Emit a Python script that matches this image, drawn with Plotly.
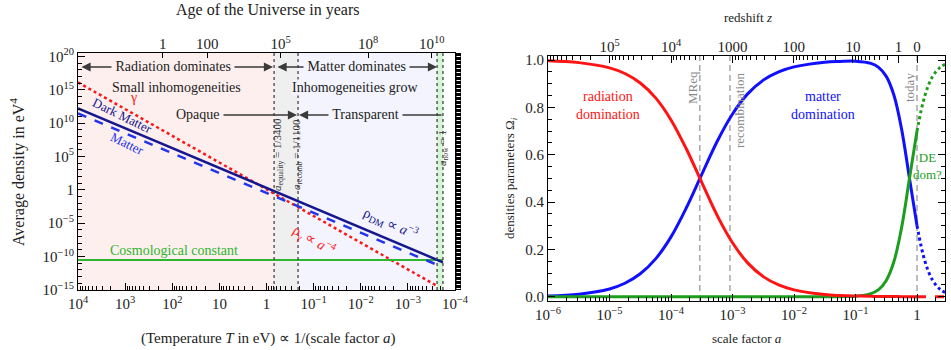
import numpy as np
import plotly.graph_objects as go

# ---------------- Left panel data ----------------
T_line = [1e4, 1.8e-4]                      # temperature in eV (end points)
rho_dm = [10**12.2, 10**-10.85]             # dark matter density, eV^4
rho_matter = [10**11.45, 10**-11.6]         # (baryonic) matter density
T_gamma = [1e4, 2.4e-4]
rho_gamma = [10**16.1, 10**-14.4]           # photons
rho_lambda = [10**-10.5, 10**-10.5]         # cosmological constant

T_ticks = [1e4, 1e3, 1e2, 10, 1, 0.1, 0.01, 1e-3, 1e-4]
T_ticktext = ["10<sup>4</sup>", "10<sup>3</sup>", "10<sup>2</sup>", "10", "1",
              "10<sup>−1</sup>", "10<sup>−2</sup>", "10<sup>−3</sup>", "10<sup>−4</sup>"]
age_T = [160, 18, 0.5, 7e-3, 3.1e-4]
age_labels = ["1", "100", "10<sup>5</sup>", "10<sup>8</sup>", "10<sup>10</sup>"]
rho_ticks = [1e20, 1e15, 1e10, 1e5, 1, 1e-5, 1e-10, 1e-15]
rho_ticktext = ["10<sup>20</sup>", "10<sup>15</sup>", "10<sup>10</sup>", "10<sup>5</sup>", "1",
                "10<sup>−5</sup>", "10<sup>−10</sup>", "10<sup>−15</sup>"]
T_eq, T_rec, T_now_a, T_now_b = 0.69, 0.214, 2.4e-4, 1.8e-4

# ---------------- Right panel data ----------------
log_a = [-6, -5.5, -5, -4.75, -4.5, -4.25, -4, -3.75, -3.5, -3.25, -3, -2.75, -2.5,
         -2.25, -2, -1.5, -1.25, -1, -0.75, -0.625, -0.5, -0.375, -0.25, -0.125, 0]
omega_r = [0.997, 0.989, 0.967, 0.943, 0.903, 0.840, 0.747, 0.624, 0.483, 0.344, 0.228,
           0.142, 0.085, 0.050, 0.029, 0.009, 0.005, 0.003, 0.002, 0.001, 0.001, 0.001,
           0.0, 0.0, 0.0]
omega_m = [0.003, 0.011, 0.033, 0.057, 0.097, 0.160, 0.253, 0.376, 0.517, 0.656, 0.772,
           0.858, 0.915, 0.950, 0.971, 0.991, 0.994, 0.995, 0.986, 0.969, 0.931, 0.851,
           0.707, 0.504, 0.300]
omega_de = [0, 0, 0, 0, 0, 0, 0, 0, 0, 0, 0, 0, 0, 0, 0,
            0.0001, 0.0004, 0.002, 0.013, 0.030, 0.069, 0.149, 0.293, 0.496, 0.700]
log_a_future = [0, 0.125, 0.25, 0.375, 0.455]
omega_r_future = [0, 0, 0, 0, 0]
omega_m_future = [0.300, 0.153, 0.071, 0.031, 0.018]
omega_de_future = [0.700, 0.847, 0.929, 0.969, 0.982]

a_ticks = [1e-6, 1e-5, 1e-4, 1e-3, 1e-2, 1e-1, 1]
a_ticktext = ["10<sup>−6</sup>", "10<sup>−5</sup>", "10<sup>−4</sup>", "10<sup>−3</sup>",
              "10<sup>−2</sup>", "10<sup>−1</sup>", "1"]
z_ticks = [1e5, 1e4, 1000, 100, 10, 1, 0]
z_ticktext = ["10<sup>5</sup>", "10<sup>4</sup>", "1000", "100", "10", "1", "0"]
omega_ticks = [0, 0.2, 0.4, 0.6, 0.8, 1.0]
a_eq, a_rec, a_today = 1 / 3400, 1 / 1100, 1.0

a_vals = 10 ** np.array(log_a)
a_future = 10 ** np.array(log_a_future)

# ---------------- colours ----------------
RED = "#ff1414"
NAVY = "#16168f"
BLUE = "#2233ee"
GREEN_L = "#2fb52f"
BLUE_R = "#1010ff"
GREEN_R = "#1c9e1c"
FONT = "Liberation Serif"

W, H = 951, 350
def px(X): return X / W
def py(Y): return 1 - Y / H

fig = go.Figure()

# Left panel traces
fig.add_trace(go.Scatter(x=T_gamma, y=rho_gamma, mode="lines",
                         line=dict(color=RED, width=2.5, dash="dot"), xaxis="x", yaxis="y"))
fig.add_trace(go.Scatter(x=T_line, y=rho_lambda, mode="lines",
                         line=dict(color=GREEN_L, width=2), xaxis="x", yaxis="y"))
fig.add_trace(go.Scatter(x=T_line, y=rho_matter, mode="lines",
                         line=dict(color=BLUE, width=2.5, dash="dash"), xaxis="x", yaxis="y"))
fig.add_trace(go.Scatter(x=T_line, y=rho_dm, mode="lines",
                         line=dict(color=NAVY, width=2.5), xaxis="x", yaxis="y"))
fig.add_trace(go.Scatter(x=[1], y=[1], mode="markers", marker=dict(opacity=0),
                         xaxis="x3", yaxis="y", hoverinfo="skip"))

# Right panel traces
fig.add_trace(go.Scatter(x=a_vals, y=omega_m, mode="lines", line_shape="spline",
                         line=dict(color=BLUE_R, width=3), xaxis="x2", yaxis="y2"))
fig.add_trace(go.Scatter(x=a_vals, y=omega_de, mode="lines", line_shape="spline",
                         line=dict(color=GREEN_R, width=3), xaxis="x2", yaxis="y2"))
fig.add_trace(go.Scatter(x=a_vals, y=omega_r, mode="lines", line_shape="spline",
                         line=dict(color=RED, width=3), xaxis="x2", yaxis="y2"))
fig.add_trace(go.Scatter(x=a_future, y=omega_m_future, mode="lines", line_shape="spline",
                         line=dict(color=BLUE_R, width=3, dash="dot"), xaxis="x2", yaxis="y2"))
fig.add_trace(go.Scatter(x=a_future, y=omega_de_future, mode="lines", line_shape="spline",
                         line=dict(color=GREEN_R, width=3, dash="dot"), xaxis="x2", yaxis="y2"))
fig.add_trace(go.Scatter(x=a_future, y=omega_r_future, mode="lines",
                         line=dict(color=RED, width=3, dash="dash"), xaxis="x2", yaxis="y2"))
fig.add_trace(go.Scatter(x=[0.01], y=[0.5], mode="markers", marker=dict(opacity=0),
                         xaxis="x4", yaxis="y2", hoverinfo="skip"))

# ---------------- shapes ----------------
shapes = []
bands = [(1e4, T_eq, "#fcefee"), (T_eq, T_rec, "#efefef"), (T_rec, T_now_a, "#f3f4fd"),
         (T_now_a, T_now_b, "#d4f6d4")]
for x0, x1, c in bands:
    shapes.append(dict(type="rect", xref="x", yref="y domain", x0=x0, x1=x1, y0=0, y1=1,
                       fillcolor=c, line=dict(width=0), layer="below"))
for xv in [T_eq, T_rec, T_now_a, T_now_b]:
    shapes.append(dict(type="line", xref="x", yref="y domain", x0=xv, x1=xv, y0=0, y1=1,
                       line=dict(color="#444", width=1.3, dash="dot")))
# striped bar on the right edge of the left frame
shapes.append(dict(type="rect", xref="paper", yref="paper", x0=px(455), x1=px(461),
                   y0=py(290), y1=py(53), fillcolor="black", line=dict(width=0)))
shapes.append(dict(type="line", xref="paper", yref="paper", x0=px(458.5), x1=px(458.5),
                   y0=py(289), y1=py(54), line=dict(color="white", width=4, dash="1px,3px")))
for xv in [a_eq, a_rec, a_today]:
    shapes.append(dict(type="line", xref="x2", yref="y2 domain", x0=xv, x1=xv, y0=0, y1=1,
                       line=dict(color="#9a9a9a", width=1.3, dash="6px,4px"), layer="below"))

# ---------------- annotations ----------------
ann = []
def text(X, Y, s, size=14, color="#222", angle=0, bg=None):
    d = dict(x=px(X), y=py(Y), xref="paper", yref="paper", text=s, showarrow=False,
             font=dict(family=FONT, size=size, color=color), textangle=angle,
             xanchor="center", yanchor="middle")
    if bg:
        d["bgcolor"] = bg
        d["borderpad"] = 0
    ann.append(d)

def arrow(Xh, Xt, Y, both=False):
    ann.append(dict(x=px(Xh), y=py(Y), xref="paper", yref="paper", ax=Xt - Xh, ay=0,
                    axref="pixel", ayref="pixel", text="", showarrow=True,
                    arrowhead=2, arrowsize=1.3, arrowwidth=1.4, arrowcolor="#3a3a3a",
                    arrowside="end+start" if both else "end"))

arrow(273, 80, 67, both=True)
arrow(437, 276, 67, both=True)
arrow(297, 222, 115)
arrow(299, 443, 115)
text(173, 67, " Radiation dominates ", bg="#fcefee")
text(356, 67, " Matter dominates ", bg="#f3f4fd")
text(176, 87, "Small inhomogeneities")
text(355, 87, "Inhomogeneities grow", bg="#f3f4fd")
text(198, 115, "Opaque", bg="#fcefee")
text(365, 115, " Transparent ", bg="#f3f4fd")
text(133, 97, "γ", color=RED)
text(122, 116, "Dark Matter", size=13, color=NAVY, angle=26)
text(127, 143, "Matter", size=13, color=BLUE, angle=26)
text(390, 223, "ρ<sub>DM</sub> ∝ <i>a</i><sup>−3</sup>", color=NAVY, angle=24)
text(314, 240, "ρ<sub>γ</sub> ∝ <i>a</i><sup>−4</sup>", color=RED, angle=30)
text(174, 250, "Cosmological constant", color=GREEN_L)
text(278, 155, "<i>a</i><sub>equality</sub> = 1/3400", size=11, color="#333", angle=-90)
text(297, 155, "<i>a</i><sub>recomb</sub> = 1/1100", size=11, color="#333", angle=-90)
text(443, 148, "<i>a</i><sub>now</sub> = 1", size=11, color="#333", angle=-90)
text(17, 172, "Average density in eV<sup>4</sup>", size=16, angle=-90)
text(268, 10, "Age of the Universe in years", size=16)
text(268, 338, "(Temperature <i>T</i> in eV) ∝ 1/(scale factor <i>a</i>)", size=15)

text(608, 105, "radiation<br>domination", color=RED)
text(823, 105, "matter<br>domination", color=BLUE_R)
text(927, 166, "DE<br>dom?", size=13, color=GREEN_R)
text(692, 88, "MReq", size=13, color="#888", angle=-90)
text(739, 110, "recombination", size=13, color="#888", angle=-90)
text(909, 88, "today", size=13, color="#888", angle=-90)
text(748, 18, "redshift <i>z</i>", size=13)
text(747, 338, "scale factor <i>a</i>", size=13)
text(510, 178, "densities parameters Ω<sub><i>i</i></sub>", size=13, angle=-90)

# ---------------- axes ----------------
def minor_log(lo, hi):
    return [m * 10.0 ** k for k in range(lo, hi) for m in range(2, 10)]

z_minor = [1 / (1 + m * 10.0 ** k) for k in range(0, 6) for m in range(2, 10)]

tickfont = dict(family=FONT, size=15, color="#222")
common = dict(showgrid=False, zeroline=False, showline=True, linecolor="black",
              linewidth=1, tickcolor="black", tickfont=tickfont, automargin=False)

fig.update_layout(
    width=W, height=H, margin=dict(l=0, r=0, t=0, b=0, pad=0, autoexpand=False),
    paper_bgcolor="white", plot_bgcolor="white", showlegend=False,
    font=dict(family=FONT),
    shapes=shapes, annotations=ann,
    xaxis=dict(domain=[px(78), px(455)], anchor="y", type="log", range=[4, -4],
               tickmode="array", tickvals=T_ticks, ticktext=T_ticktext,
               ticks="inside", ticklen=7, mirror=True,
               minor=dict(ticks="inside", ticklen=4, tickcolor="black",
                          tickvals=minor_log(-4, 4)), **common),
    xaxis3=dict(overlaying="x", side="top", anchor="y", type="log", range=[4, -4],
                tickmode="array", tickvals=age_T, ticktext=age_labels,
                ticks="inside", ticklen=5, showgrid=False, zeroline=False, automargin=False,
                showline=False, tickcolor="black", tickfont=tickfont),
    yaxis=dict(domain=[py(290), py(53)], anchor="x", type="log", range=[-15, 20.5],
               tickmode="array", tickvals=rho_ticks, ticktext=rho_ticktext,
               ticks="inside", ticklen=7, mirror=True,
               minor=dict(ticks="inside", ticklen=4, tickcolor="black",
                          tickvals=[10.0 ** k for k in range(-15, 21) if k % 5]), **common),
    xaxis2=dict(domain=[px(548), px(945)], anchor="y2", type="log", range=[-6, 0.455],
                tickmode="array", tickvals=a_ticks, ticktext=a_ticktext,
                ticks="inside", ticklen=7, mirror=True,
                minor=dict(ticks="inside", ticklen=4, tickcolor="black",
                           tickvals=minor_log(-6, 1)), **common),
    xaxis4=dict(overlaying="x2", side="top", anchor="y2", type="log", range=[-6, 0.455],
                tickmode="array", tickvals=[1 / (1 + z) for z in z_ticks], ticktext=z_ticktext,
                ticks="inside", ticklen=7, showgrid=False, zeroline=False, showline=False,
                automargin=False, tickcolor="black", tickfont=tickfont,
                minor=dict(ticks="inside", ticklen=4, tickcolor="black", tickvals=z_minor)),
    yaxis2=dict(domain=[py(301), py(56)], anchor="x2", range=[-0.018, 1.017],
                tickmode="array", tickvals=omega_ticks,
                ticktext=["0.0", "0.2", "0.4", "0.6", "0.8", "1.0"],
                ticks="inside", ticklen=7, mirror="ticks",
                minor=dict(ticks="inside", ticklen=4, tickcolor="black",
                           tickvals=[0.05 * i for i in range(21) if i % 4]), **common),
)

fig.write_html("out.html",
               post_script="document.body.style.margin='0px';"
                           "document.body.style.overflow='hidden';")
